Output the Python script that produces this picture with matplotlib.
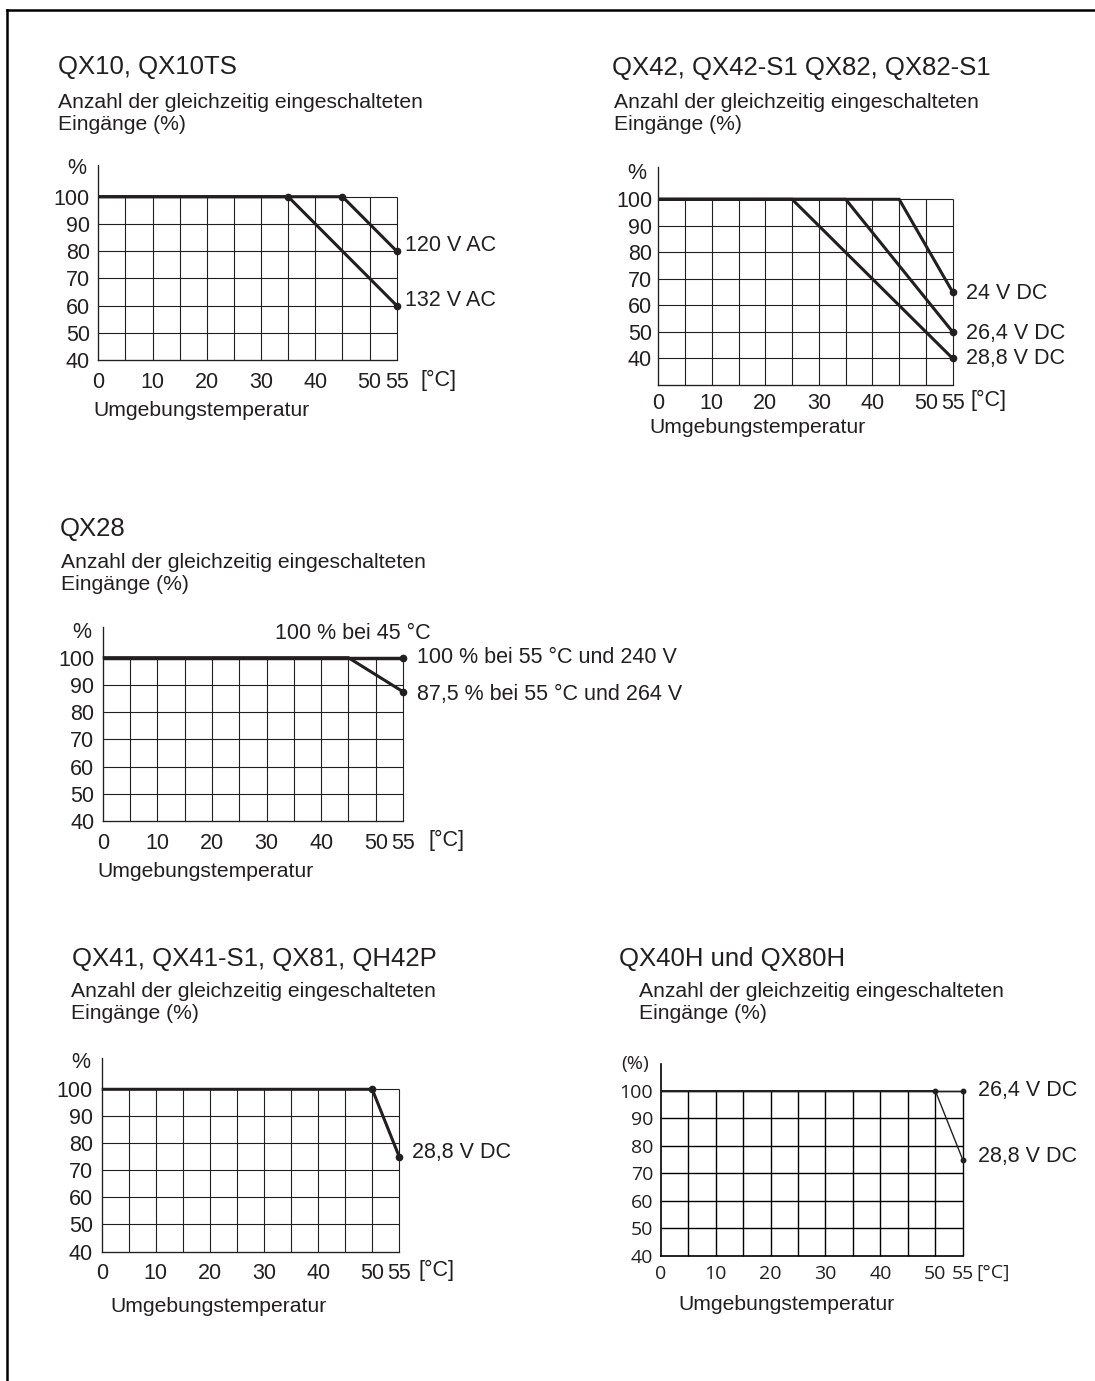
import matplotlib
matplotlib.use("Agg")
import matplotlib.pyplot as plt
from matplotlib.lines import Line2D

W, H = 1095, 1381
DPI = 100
INK = "#231f20"
SANS = ["Liberation Sans", "DejaVu Sans"]
HUMANIST = ["Open Sans", "DejaVu Sans"]
plt.rcParams["font.family"] = SANS

# Shared scales
temp_ticks = [0, 10, 20, 30, 40, 50, 55]
temp_grid = [5, 10, 15, 20, 25, 30, 35, 40, 45, 50, 55]
pct_ticks = [100, 90, 80, 70, 60, 50, 40]

# QX10, QX10TS
qx10_120v_temp = [0, 45, 55]
qx10_120v_pct = [100, 100, 80]
qx10_132v_temp = [0, 35, 55]
qx10_132v_pct = [100, 100, 60]

# QX42, QX42-S1, QX82, QX82-S1
qx42_24v_temp = [0, 45, 55]
qx42_24v_pct = [100, 100, 65]
qx42_264v_temp = [0, 35, 55]
qx42_264v_pct = [100, 100, 50]
qx42_288v_temp = [0, 25, 55]
qx42_288v_pct = [100, 100, 40]

# QX28
qx28_240v_temp = [0, 55]
qx28_240v_pct = [100, 100]
qx28_264v_temp = [0, 45, 55]
qx28_264v_pct = [100, 100, 87.5]

# QX41, QX41-S1, QX81, QH42P
qx41_288v_temp = [0, 50, 55]
qx41_288v_pct = [100, 100, 75]

# QX40H, QX80H
qx40h_264v_temp = [0, 55]
qx40h_264v_pct = [100, 100]
qx40h_288v_temp = [0, 50, 55]
qx40h_288v_pct = [100, 100, 75]

subtitle_1 = "Anzahl der gleichzeitig eingeschalteten"
subtitle_2 = "Eingänge (%)"
x_caption = "Umgebungstemperatur"
x_unit = "[°C]"

TITLE_SIZE = 18.5
TEXT_SIZE = 15.2

fig = plt.figure(figsize=(W / DPI, H / DPI), dpi=DPI)
fig.patch.set_facecolor("white")


def fx(x):
    return x / W


def fy(y):
    return 1 - y / H


def ftext(x, y, s, size=TEXT_SIZE, va="baseline", ha="left", family=None):
    fig.text(fx(x), fy(y), s, fontsize=size, va=va, ha=ha, color=INK,
             family=family or SANS)


def make_axes(x0, x55, ybot_px, y100_px, ytop_px, ybot_val, hlines,
              grid_lw=0.8, color=INK, tick_font=None, tick_size=15.5,
              ypad=6, xpad=8):
    ax = fig.add_axes([fx(x0), fy(ybot_px), (x55 - x0) / W,
                       (ybot_px - ytop_px) / H])
    ppu = (ybot_px - y100_px) / (100 - ybot_val)
    ax.set_xlim(0, 55)
    ax.set_ylim(ybot_val, ybot_val + (ybot_px - ytop_px) / ppu)
    ax.set_facecolor("none")
    for s in ("top", "right"):
        ax.spines[s].set_visible(False)
    for s in ("left", "bottom"):
        ax.spines[s].set_color(color)
        ax.spines[s].set_linewidth(grid_lw * 1.2)
    ax.hlines(hlines, 0, 55, color=color, lw=grid_lw, zorder=1, clip_on=False)
    ax.vlines(temp_grid, ybot_val, 100, color=color, lw=grid_lw, zorder=1,
              clip_on=False)
    ax.set_xticks(temp_ticks)
    ax.set_xticklabels([str(t) for t in temp_ticks])
    ax.set_yticks(pct_ticks)
    ax.set_yticklabels([str(p) for p in pct_ticks])
    fam = tick_font or SANS
    ax.tick_params(axis="both", length=0, labelsize=tick_size,
                   labelcolor=INK)
    ax.tick_params(axis="x", pad=xpad)
    ax.tick_params(axis="y", pad=ypad)
    for lab in ax.get_xticklabels() + ax.get_yticklabels():
        lab.set_family(fam)
    return ax


def curve(ax, t, p, lw=2.2, dots=None, ms=4.5):
    ax.plot(t, p, color=INK, lw=lw, solid_capstyle="butt",
            solid_joinstyle="miter", zorder=3, clip_on=False)
    if dots is not None:
        ax.plot([t[i] for i in dots], [p[i] for i in dots], "o", ms=ms,
                color=INK, zorder=4, clip_on=False)


def label(ax, t, p, s, dx, dy=0, size=15.5, va="center", ha="left"):
    ax.annotate(s, xy=(t, p), xytext=(dx, dy), textcoords="offset points",
                fontsize=size, va=va, ha=ha, color=INK,
                annotation_clip=False)


# ---- QX10, QX10TS ----
ftext(58.3, 74.3, "QX10, QX10TS", size=TITLE_SIZE)
ftext(58.3, 108.3, subtitle_1)
ftext(58.3, 130, subtitle_2)
ax1 = make_axes(98.3, 396.7, 360, 196.7, 165, 40, [50, 60, 70, 80, 90, 100],
                xpad=9)
curve(ax1, qx10_132v_temp, qx10_132v_pct, dots=[1, 2])
curve(ax1, qx10_120v_temp, qx10_120v_pct, dots=[1, 2])
label(ax1, 55, qx10_120v_pct[-1], "120 V AC", 6, va="baseline")
label(ax1, 55, qx10_132v_pct[-1], "132 V AC", 6, va="baseline")
ftext(76.7, 168, "%", size=15.5, va="center", ha="center")
ftext(420, 380, x_unit, size=15.5, va="center")
ftext(93.3, 416, x_caption)

# ---- QX42, QX42-S1, QX82, QX82-S1 ----
ftext(611.7, 75, "QX42, QX42-S1 QX82, QX82-S1", size=TITLE_SIZE)
ftext(614, 108.3, subtitle_1)
ftext(614, 130, subtitle_2)
ax2 = make_axes(658.3, 952.7, 385, 199.3, 166.7, 30,
                [40, 50, 60, 70, 80, 90, 100], ypad=4.5, xpad=6)
curve(ax2, qx42_288v_temp, qx42_288v_pct, dots=[2])
curve(ax2, qx42_264v_temp, qx42_264v_pct, dots=[2])
curve(ax2, qx42_24v_temp, qx42_24v_pct, dots=[2])
label(ax2, 55, qx42_24v_pct[-1], "24 V DC", 9.5, -1)
label(ax2, 55, qx42_264v_pct[-1], "26,4 V DC", 9.5, -1)
label(ax2, 55, qx42_288v_pct[-1], "28,8 V DC", 9.5, 0)
ftext(637, 173.3, "%", size=15.5, va="center", ha="center")
ftext(970, 400, x_unit, size=15.5, va="center")
ftext(649.3, 433, x_caption)

# ---- QX28 ----
ftext(60, 536, "QX28", size=TITLE_SIZE)
ftext(61, 568.3, subtitle_1)
ftext(61, 590, subtitle_2)
ax3 = make_axes(102.7, 403, 821, 657.7, 627, 40, [50, 60, 70, 80, 90, 100],
                xpad=8.5)
curve(ax3, qx28_264v_temp, qx28_264v_pct, dots=[2])
curve(ax3, qx28_240v_temp, qx28_240v_pct, lw=2.5, dots=[1])
label(ax3, 45, 100, "100 % bei 45 °C", 3, 13.5, va="baseline", ha="center")
label(ax3, 55, qx28_240v_pct[-1], "100 % bei 55 °C und 240 V", 10, 0)
label(ax3, 55, qx28_264v_pct[-1], "87,5 % bei 55 °C und 264 V", 10, -2)
ftext(81.5, 633, "%", size=15.5, va="center", ha="center")
ftext(428, 840, x_unit, size=15.5, va="center")
ftext(97, 876.7, x_caption)

# ---- QX41, QX41-S1, QX81, QH42P ----
ftext(71.7, 966, "QX41, QX41-S1, QX81, QH42P", size=TITLE_SIZE)
ftext(71, 997.3, subtitle_1)
ftext(71, 1019.3, subtitle_2)
ax4 = make_axes(101.7, 399.3, 1251.5, 1089.3, 1057.7, 40,
                [50, 60, 70, 80, 90, 100], ypad=6.5, xpad=8)
curve(ax4, qx41_288v_temp, qx41_288v_pct, dots=[1, 2])
label(ax4, 55, qx41_288v_pct[-1], "28,8 V DC", 9.5, 3)
ftext(81, 1063, "%", size=15.5, va="center", ha="center")
ftext(418, 1270, x_unit, size=15.5, va="center")
ftext(110, 1311.7, x_caption)

# ---- QX40H und QX80H ----
ftext(619.3, 966, "QX40H und QX80H", size=TITLE_SIZE)
ftext(639.3, 997.3, subtitle_1)
ftext(639.3, 1019.3, subtitle_2)
ax5 = make_axes(660.7, 962.7, 1256, 1090.7, 1064, 40,
                [50, 60, 70, 80, 90, 100], grid_lw=1.0, color="black",
                tick_font=HUMANIST, tick_size=14, ypad=5.5, xpad=6.5)
curve(ax5, qx40h_264v_temp, qx40h_264v_pct, lw=1.0, dots=[1], ms=3.2)
curve(ax5, qx40h_288v_temp, qx40h_288v_pct, lw=1.0, dots=[1, 2], ms=3.2)
label(ax5, 55, qx40h_264v_pct[-1], "26,4 V DC", 11, 0)
label(ax5, 55, qx40h_288v_pct[-1], "28,8 V DC", 11, 2.5)
ftext(635, 1064, "(%)", size=14, va="center", ha="center", family=HUMANIST)
ftext(976.7, 1273, x_unit, size=14, va="center", family=HUMANIST)
ftext(678.3, 1310, x_caption)

# Page frame: left and top rule
fig.add_artist(Line2D([fx(6.5), fx(6.5)], [0, fy(10)], color="black", lw=1.8))
fig.add_artist(Line2D([fx(6.5), 1], [fy(10), fy(10)], color="black", lw=1.8))

fig.savefig("out.png", dpi=DPI, facecolor="white")
